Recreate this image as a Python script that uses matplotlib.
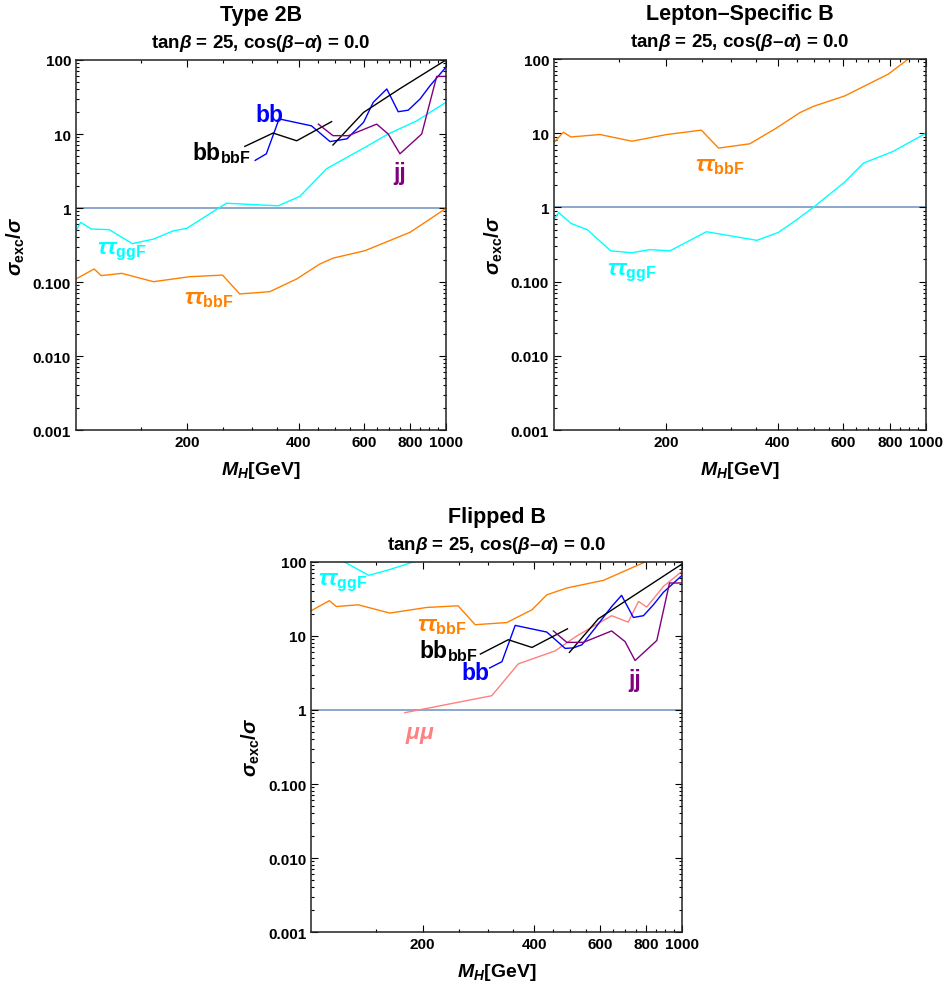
# Ograniczenia sigma_exc/sigma dla ciezkiego H w trzech modelach 2HDM (tanb = 25)

import matplotlib
matplotlib.use("Agg")
from matplotlib import pyplot as plt
from matplotlib.ticker import FixedLocator, LogLocator, NullFormatter

plt.rcParams['font.family'] = ['Liberation Sans', 'DejaVu Sans']
plt.rcParams['font.weight'] = 'bold'
plt.rcParams['axes.labelweight'] = 'bold'
plt.rcParams['mathtext.fontset'] = 'custom'
plt.rcParams['mathtext.rm'] = 'Liberation Sans:bold'
plt.rcParams['mathtext.bf'] = 'Liberation Sans:bold'
plt.rcParams['mathtext.it'] = 'Liberation Sans:bold:italic'
plt.rcParams['mathtext.sf'] = 'Liberation Sans:bold'

# --- Type 2B ---
t2_ttggf_m = [100, 103, 110, 123, 142, 162, 183, 199, 255, 352, 403, 476, 604, 698, 833, 1000]
t2_ttggf_v = [0.49, 0.64, 0.52, 0.51, 0.33, 0.38, 0.49, 0.53, 1.16, 1.07, 1.44, 3.4, 6.6, 10, 15, 26.8]
t2_ttbbf_m = [100, 112, 117, 133, 162, 203, 249, 277, 334, 395, 456, 495, 604, 800, 906, 1000]
t2_ttbbf_v = [0.11, 0.15, 0.122, 0.131, 0.101, 0.118, 0.124, 0.069, 0.074, 0.11, 0.175, 0.21, 0.265, 0.47, 0.71, 0.99]
t2_bb_m = [305, 327, 354, 433, 486, 540, 599, 636, 692, 743, 791, 851, 906, 1000]
t2_bb_v = [4.4, 5.4, 16, 12.9, 7.9, 8.6, 14.4, 26.8, 40.6, 20, 21, 29.7, 45, 80]
t2_bbbbf1_m = [286, 341, 395, 491]
t2_bbbbf1_v = [6.8, 10.3, 8.1, 14.7]
t2_bbbbf2_m = [495, 599, 751, 1000]
t2_bbbbf2_v = [7.1, 19.6, 41, 100]
t2_jj_m = [452, 495, 545, 650, 698, 751, 860, 944, 1000]
t2_jj_v = [13.6, 9.5, 9.5, 13.6, 10, 5.4, 10, 60, 60]

# --- Lepton-Specific B ---
ls_ttbbf_m = [100, 106, 111, 133, 162, 201, 249, 277, 336, 397, 458, 498, 605, 792, 897, 1000]
ls_ttbbf_v = [7.5, 10.3, 8.9, 9.6, 7.8, 9.6, 11, 6.3, 7.2, 11.8, 18.9, 23, 31.8, 62.6, 100, 150]
ls_ttggf_m = [100, 103, 111, 123, 142, 162, 181, 205, 257, 351, 401, 449, 498, 605, 679, 817, 1000]
ls_ttggf_v = [0.69, 0.85, 0.61, 0.50, 0.26, 0.245, 0.27, 0.26, 0.47, 0.36, 0.46, 0.68, 1.0, 2.2, 3.95, 5.7, 10]

# --- Flipped B ---
fl_ttggf_m = [100, 123, 143, 163, 193, 230]
fl_ttggf_v = [160, 100, 66, 79, 104, 150]
fl_ttbbf_m = [100, 112, 117, 134, 163, 205, 249, 277, 337, 394, 432, 489, 614, 795, 1000]
fl_ttbbf_v = [21.9, 30, 25, 26.4, 20.4, 24.3, 25.6, 14.2, 15.2, 22.6, 36, 44.5, 56.5, 100, 160]
fl_bb_m = [303, 327, 355, 432, 484, 509, 537, 583, 646, 687, 739, 787, 837, 891, 1000]
fl_bb_v = [3.7, 4.5, 13.9, 11.3, 6.8, 6.9, 7.6, 12.8, 25, 35.4, 17.8, 18.8, 26.4, 39, 66]
fl_bbbbf1_m = [286, 340, 394, 491]
fl_bbbbf1_v = [5.7, 8.9, 7.0, 12.5]
fl_bbbbf2_m = [497, 595, 1000]
fl_bbbbf2_v = [6.0, 17.1, 94]
fl_mumu_m = [179, 307, 362, 455, 520, 646, 716, 763, 803, 891, 1000]
fl_mumu_v = [0.92, 1.56, 4.2, 6.3, 10, 18.8, 15.4, 29.3, 24.6, 46.8, 75]
fl_jj_m = [450, 489, 542, 646, 702, 747, 855, 925, 1000]
fl_jj_v = [11.7, 8.2, 8.2, 11.7, 8.4, 4.66, 8.7, 52, 52]

x_major = [200, 400, 600, 800, 1000]
x_minor = [150, 250, 300, 350, 450, 500, 550, 650, 700, 750, 850, 900, 950]
y_ticks = [0.001, 0.01, 0.1, 1, 10, 100]
y_labels = ["0.001", "0.010", "0.100", "1", "10", "100"]

CYAN = '#00ffff'
ORANGE = '#ff8000'
BLUE = '#0000ff'
PURPLE = '#800080'
PINK = '#ff8080'
ONE_LINE = '#8ba7cc'
FS = 16.5  # etykiety krzywych


def ustaw_os(ax):
    ax.set_xscale('log')
    ax.set_yscale('log')
    ax.set_xlim(100, 1000)
    ax.set_ylim(0.001, 100)
    ax.xaxis.set_major_locator(FixedLocator(x_major))
    ax.xaxis.set_minor_locator(FixedLocator(x_minor))
    ax.set_xticklabels([str(v) for v in x_major])
    ax.xaxis.set_minor_formatter(NullFormatter())
    ax.yaxis.set_major_locator(FixedLocator(y_ticks))
    ax.set_yticklabels(y_labels)
    ax.yaxis.set_minor_locator(LogLocator(base=10, subs=range(2, 10)))
    ax.yaxis.set_minor_formatter(NullFormatter())
    ax.tick_params(which='both', direction='in', top=True, right=True, labelsize=11, width=0.8)
    ax.tick_params(which='major', length=5)
    ax.tick_params(which='minor', length=2.5)
    for lab in ax.get_xticklabels() + ax.get_yticklabels():
        lab.set_fontweight('bold')
    for s in ax.spines.values():
        s.set_linewidth(1.1)
        s.set_color('#222222')
    ax.axhline(1, color=ONE_LINE, lw=1.4, zorder=1)
    ax.set_xlabel(r'$M_H$[GeV]', fontsize=14, fontweight='bold', labelpad=7)
    ax.set_ylabel(r'$\sigma_{\mathrm{exc}}/\sigma$', fontsize=14.5, fontweight='bold', labelpad=4)


def tytul(ax, nazwa):
    box = ax.get_position()
    xc = (box.x0 + box.x1) / 2
    fig.text(xc, box.y1 + 0.046, nazwa, ha='center', va='center', fontsize=15.5, fontweight='bold')
    fig.text(xc, box.y1 + 0.018, r'tan$\beta$ = 25, cos($\beta$–$\alpha$) = 0.0',
             ha='center', va='center', fontsize=13.5, fontweight='bold')


fig = plt.figure(figsize=(9.46, 9.87), dpi=100)
ax1 = fig.add_axes([0.0803, 0.5633, 0.3911, 0.3749])
ax2 = fig.add_axes([0.5856, 0.5633, 0.3932, 0.3759])
ax3 = fig.add_axes([0.3288, 0.0547, 0.3922, 0.3749])

lw = 1.0

# Type 2B
ustaw_os(ax1)
ax1.plot(t2_ttggf_m, t2_ttggf_v, color=CYAN, lw=lw)
ax1.plot(t2_ttbbf_m, t2_ttbbf_v, color=ORANGE, lw=lw)
ax1.plot(t2_bb_m, t2_bb_v, color=BLUE, lw=lw)
ax1.plot(t2_bbbbf1_m, t2_bbbbf1_v, color='black', lw=lw)
ax1.plot(t2_bbbbf2_m, t2_bbbbf2_v, color='black', lw=lw)
ax1.plot(t2_jj_m, t2_jj_v, color=PURPLE, lw=lw)
ax1.text(334, 18.6, 'bb', color=BLUE, fontsize=FS, ha='center', va='center')
ax1.text(248, 5.7, r'$\mathrm{bb}_{\mathrm{bbF}}$', color='black', fontsize=FS, ha='center', va='center')
ax1.text(751, 3.0, 'jj', color=PURPLE, fontsize=FS, ha='center', va='center')
ax1.text(133, 0.265, r'$\tau\tau_{\mathrm{ggF}}$', color=CYAN, fontsize=FS, ha='center', va='center')
ax1.text(228, 0.062, r'$\tau\tau_{\mathrm{bbF}}$', color=ORANGE, fontsize=FS, ha='center', va='center')
tytul(ax1, 'Type 2B')

# Lepton-Specific B
ustaw_os(ax2)
ax2.plot(ls_ttbbf_m, ls_ttbbf_v, color=ORANGE, lw=lw)
ax2.plot(ls_ttggf_m, ls_ttggf_v, color=CYAN, lw=lw)
ax2.text(279, 3.76, r'$\tau\tau_{\mathrm{bbF}}$', color=ORANGE, fontsize=FS, ha='center', va='center')
ax2.text(162, 0.139, r'$\tau\tau_{\mathrm{ggF}}$', color=CYAN, fontsize=FS, ha='center', va='center')
tytul(ax2, 'Lepton–Specific B')

# Flipped B
ustaw_os(ax3)
ax3.plot(fl_ttggf_m, fl_ttggf_v, color=CYAN, lw=lw)
ax3.plot(fl_ttbbf_m, fl_ttbbf_v, color=ORANGE, lw=lw)
ax3.plot(fl_mumu_m, fl_mumu_v, color=PINK, lw=lw)
ax3.plot(fl_bb_m, fl_bb_v, color=BLUE, lw=lw)
ax3.plot(fl_bbbbf1_m, fl_bbbbf1_v, color='black', lw=lw)
ax3.plot(fl_bbbbf2_m, fl_bbbbf2_v, color='black', lw=lw)
ax3.plot(fl_jj_m, fl_jj_v, color=PURPLE, lw=lw)
ax3.text(122, 55, r'$\tau\tau_{\mathrm{ggF}}$', color=CYAN, fontsize=FS, ha='center', va='center')
ax3.text(225, 14.2, r'$\tau\tau_{\mathrm{bbF}}$', color=ORANGE, fontsize=FS, ha='center', va='center')
ax3.text(234, 6.5, r'$\mathrm{bb}_{\mathrm{bbF}}$', color='black', fontsize=FS, ha='center', va='center')
ax3.text(277, 3.2, 'bb', color=BLUE, fontsize=FS, ha='center', va='center')
ax3.text(747, 2.55, 'jj', color=PURPLE, fontsize=FS, ha='center', va='center')
ax3.text(197, 0.48, r'$\mu\mu$', color=PINK, fontsize=FS, ha='center', va='center')
tytul(ax3, 'Flipped B')

fig.savefig('out.png', dpi=100)
